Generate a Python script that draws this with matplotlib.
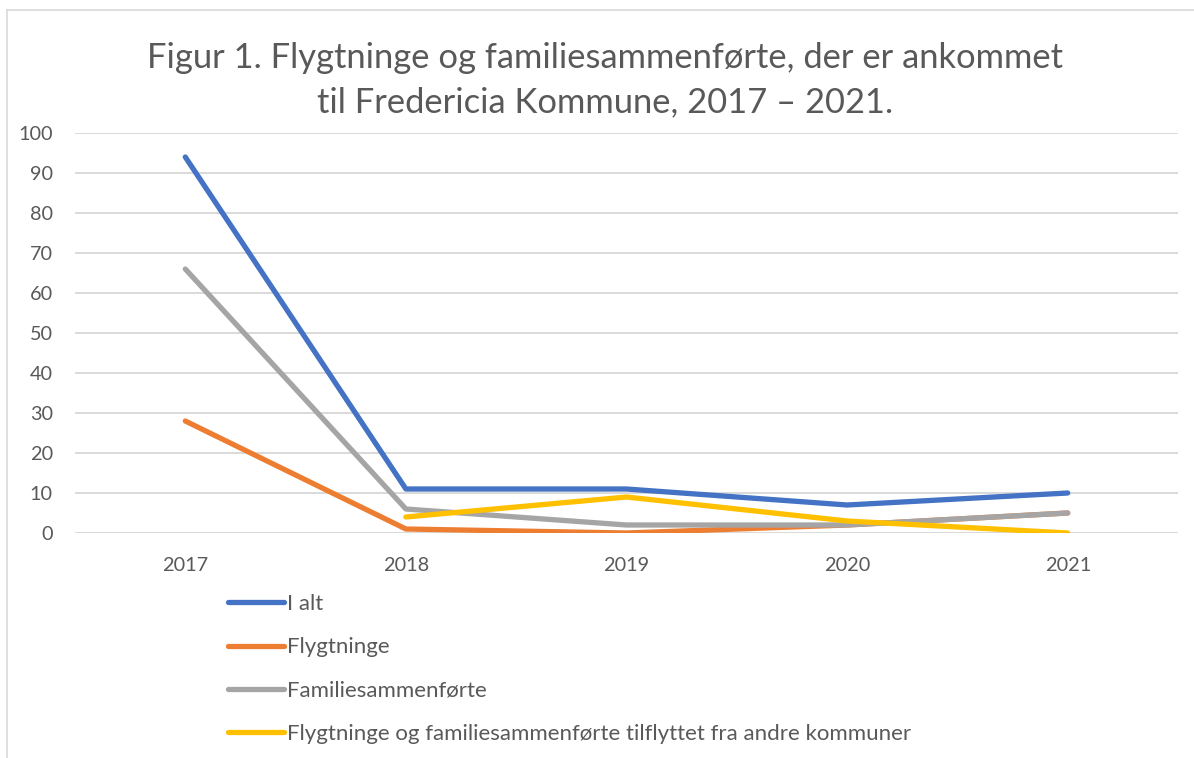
import matplotlib.pyplot as plt
import numpy as np
from matplotlib.lines import Line2D

plt.rcParams["font.family"] = ["Lato", "DejaVu Sans"]

years = ["2017", "2018", "2019", "2020", "2021"]
i_alt = [94, 11, 11, 7, 10]
flygtninge = [28, 1, 0, 2, 5]
familie = [66, 6, 2, 2, 5]
tilflyttet = [np.nan, 4, 9, 3, 0]

labels = [
    "I alt",
    "Flygtninge",
    "Familiesammenførte",
    "Flygtninge og familiesammenførte tilflyttet fra andre kommuner",
]
colors = ["#4472C4", "#ED7D31", "#A5A5A5", "#FFC000"]
text_grey = "#595959"

fig = plt.figure(figsize=(11.94, 7.58), dpi=100)
ax = fig.add_axes([75 / 1194, 1 - 533 / 758, (1178 - 75) / 1194, 400 / 758])

x = np.arange(len(years))
for vals, lab, col in zip([i_alt, flygtninge, familie, tilflyttet], labels, colors):
    ax.plot(x, vals, color=col, linewidth=3.8, label=lab,
            solid_capstyle="round", solid_joinstyle="round", zorder=3)

ax.set_xlim(-0.5, len(years) - 0.5)
ax.set_ylim(0, 100)
ax.set_yticks(range(0, 101, 10))
ax.set_xticks(x)
ax.set_xticklabels(years)
ax.tick_params(axis="both", length=0, labelsize=14.3, colors=text_grey)
ax.tick_params(axis="x", pad=17)
ax.tick_params(axis="y", pad=16)
ax.grid(axis="y", color="#D9D9D9", linewidth=1.4, zorder=0)
for s in ax.spines.values():
    s.set_visible(False)

fig.text(605 / 1194, 1 - 80 / 758, "Figur 1. Flygtninge og familiesammenførte, der er ankommet\ntil Fredericia Kommune, 2017 – 2021.",
         ha="center", va="center", fontsize=24.8, color=text_grey, linespacing=1.5)

handles = [Line2D([], [], color=c, linewidth=3.8, solid_capstyle="round") for c in colors]
fig.legend(handles, labels, loc="upper left", bbox_to_anchor=(228 / 1194, 1 - 594 / 758),
           frameon=False, fontsize=16, labelcolor=text_grey, handlelength=2.5,
           handletextpad=0.15, labelspacing=1.05, borderaxespad=0, borderpad=0)

# chart frame (left and top edges visible)
fig.add_artist(Line2D([7 / 1194, 7 / 1194], [0, 1 - 10 / 758], color="#D9D9D9", linewidth=1.2))
fig.add_artist(Line2D([7 / 1194, 1], [1 - 10 / 758, 1 - 10 / 758], color="#D9D9D9", linewidth=1.2))

fig.savefig("out.png", dpi=100)
